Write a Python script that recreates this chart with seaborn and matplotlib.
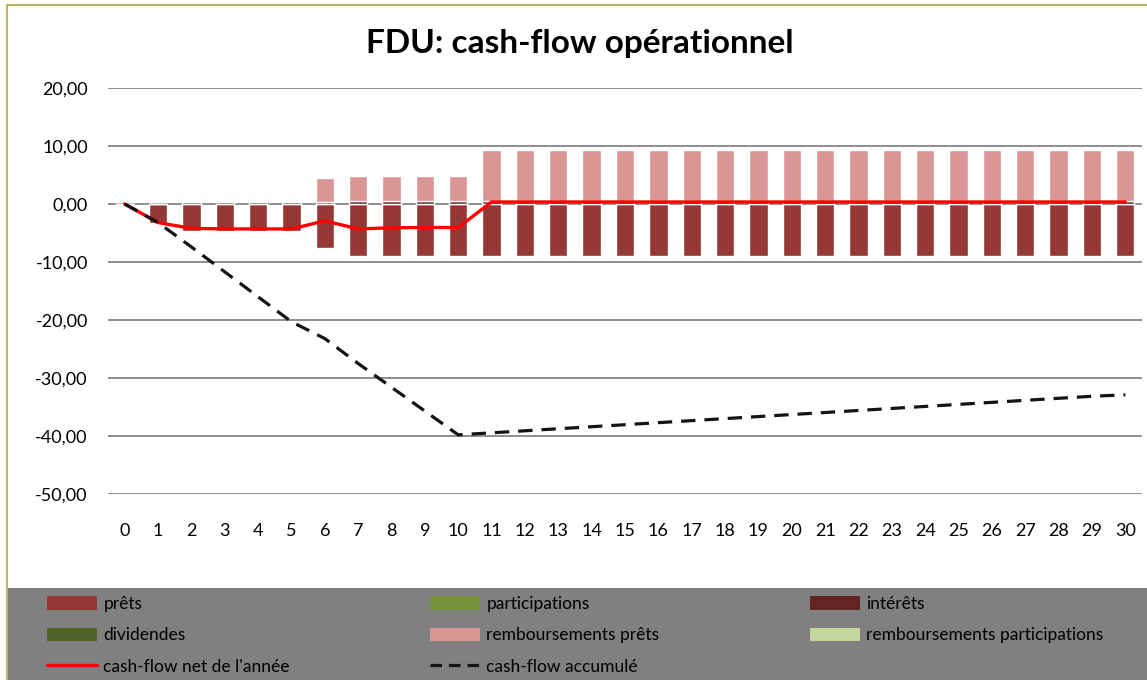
import matplotlib
matplotlib.use("Agg")
import matplotlib.pyplot as plt
import seaborn as sns
import pandas as pd
from matplotlib.patches import Patch, Rectangle
from matplotlib.lines import Line2D
from matplotlib.ticker import FuncFormatter

# values (millions)
years = list(range(31))
prets = [0.0, -3.2, -4.7, -4.7, -4.7, -4.7, -7.5, -9.0, -9.0, -9.0, -9.0,
         -9.0, -9.0, -9.0, -9.0, -9.0, -9.0, -9.0, -9.0, -9.0, -9.0,
         -9.0, -9.0, -9.0, -9.0, -9.0, -9.0, -9.0, -9.0, -9.0, -9.0]
interets = [0.0, 0.0, 0.4, 0.4, 0.4, 0.4, 0.4, 0.45, 0.45, 0.45, 0.45,
            0.45, 0.45, 0.45, 0.45, 0.45, 0.45, 0.45, 0.45, 0.45, 0.45,
            0.45, 0.45, 0.45, 0.45, 0.45, 0.45, 0.45, 0.45, 0.45, 0.45]
remb_prets = [0.0, 0.0, 0.0, 0.0, 0.0, 0.0, 4.1, 4.45, 4.45, 4.45, 4.45,
              8.9, 8.9, 8.9, 8.9, 8.9, 8.9, 8.9, 8.9, 8.9, 8.9,
              8.9, 8.9, 8.9, 8.9, 8.9, 8.9, 8.9, 8.9, 8.9, 8.9]
cf_net = [0.0, -3.2, -4.2, -4.3, -4.3, -4.3, -2.9, -4.3, -4.1, -4.05, -4.05,
          0.35, 0.35, 0.35, 0.35, 0.35, 0.35, 0.35, 0.35, 0.35, 0.35,
          0.35, 0.35, 0.35, 0.35, 0.35, 0.35, 0.35, 0.35, 0.35, 0.35]
cf_cum = [0.0, -3.2, -7.4, -11.7, -16.0, -20.3, -23.2, -27.5, -31.6, -35.7, -39.8,
          -39.45, -39.1, -38.75, -38.4, -38.05, -37.7, -37.35, -37.0, -36.65, -36.3,
          -35.95, -35.6, -35.25, -34.9, -34.55, -34.2, -33.85, -33.5, -33.15, -32.9]

legend_labels = ["prêts", "participations", "intérêts", "dividendes",
                 "remboursements prêts", "remboursements participations",
                 "cash-flow net de l'année", "cash-flow accumulé"]

df = pd.DataFrame({"annee": years, "prets": prets, "interets": interets,
                   "remb_prets": remb_prets, "cf_net": cf_net, "cf_cum": cf_cum})

sns.set_theme(style="white")
plt.rcParams["font.family"] = ["Lato", "DejaVu Sans"]
plt.rcParams["text.color"] = "black"

c_prets = "#953735"
c_part = "#77933C"
c_int = "#632523"
c_div = "#4F6228"
c_remb = "#D99694"
c_remb_part = "#C3D69B"

fig = plt.figure(figsize=(11.47, 6.8), dpi=100)
ax = fig.add_axes([108 / 1147, 1 - 494 / 680, (1142 - 108) / 1147, (494 - 88) / 680])

w = 0.55
ax.bar(df["annee"], df["prets"], width=w, color=c_prets, zorder=2)
ax.bar(df["annee"], df["interets"], width=w, color=c_int, zorder=2)
ax.bar(df["annee"], df["remb_prets"], width=w, bottom=df["interets"], color=c_remb, zorder=2)

sns.lineplot(data=df, x="annee", y="cf_net", ax=ax, color="#FF0000", linewidth=2.4, zorder=3)
sns.lineplot(data=df, x="annee", y="cf_cum", ax=ax, color="#141414", linewidth=2.3,
             linestyle=(0, (4.5, 2.8)), zorder=3)

ax.set_xlim(-0.5, 30.5)
ax.set_ylim(-50, 20)
ax.set_yticks(range(-50, 21, 10))
ax.set_xticks(years)
ax.yaxis.set_major_formatter(FuncFormatter(lambda v, p: f"{v:.2f}".replace(".", ",")))
ax.grid(axis="y", color="#868686", linewidth=1.3, zorder=0)
ax.set_axisbelow(True)
for s in ax.spines.values():
    s.set_visible(False)
ax.tick_params(axis="y", length=0, pad=14.5, labelsize=13, labelcolor="black")
ax.tick_params(axis="x", length=0, pad=21, labelsize=13, labelcolor="black")
ax.set_xlabel("")
ax.set_ylabel("")

fig.text(580 / 1147, 1 - 44 / 680, "FDU: cash-flow opérationnel", ha="center", va="center",
         fontsize=24, fontweight="bold", color="black")

# grey legend band and outer frame
fig.patches.append(Rectangle((8 / 1147, 0), 1, 92 / 680, transform=fig.transFigure,
                             facecolor="#808080", edgecolor="none", zorder=0))
fig.patches.append(Rectangle((7 / 1147, -0.01), 1, 1 - 5 / 680 + 0.01, transform=fig.transFigure,
                             facecolor="none", edgecolor="#b8b860", linewidth=1.5, zorder=1))

handles = [Patch(facecolor=c_prets, edgecolor="none"), Patch(facecolor=c_part, edgecolor="none"),
           Patch(facecolor=c_int, edgecolor="none"), Patch(facecolor=c_div, edgecolor="none"),
           Patch(facecolor=c_remb, edgecolor="none"), Patch(facecolor=c_remb_part, edgecolor="none"),
           Line2D([], [], color="#FF0000", linewidth=2.4),
           Line2D([], [], color="#141414", linewidth=2.3, linestyle=(0, (3.6, 2.2)))]

col_x = [47, 430, 810]
for col in range(3):
    idx = [i for i in range(col, 8, 3)]
    fig.legend([handles[i] for i in idx], [legend_labels[i] for i in idx],
               loc="upper left", bbox_to_anchor=(col_x[col] / 1147, 1 - 596 / 680),
               frameon=False, fontsize=12.5, handlelength=2.9, handleheight=0.8,
               handletextpad=0.35, labelspacing=0.88, borderpad=0, borderaxespad=0)

fig.savefig("out.png", dpi=100)
